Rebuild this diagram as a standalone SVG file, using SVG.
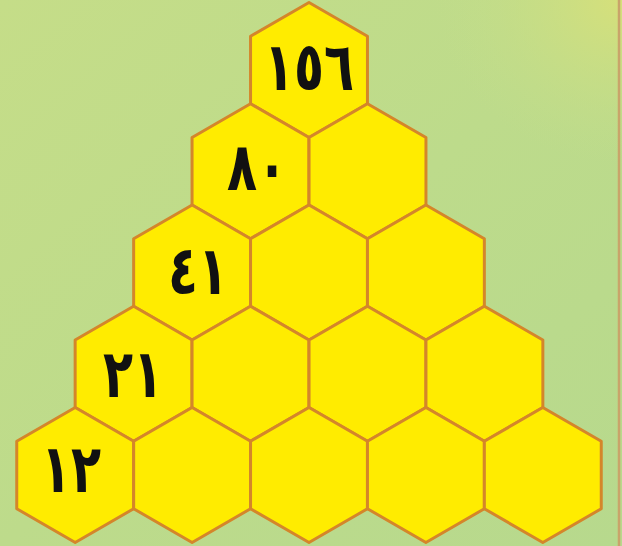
<svg xmlns="http://www.w3.org/2000/svg" xmlns:xlink="http://www.w3.org/1999/xlink" width="622" height="546" viewBox="0 0 622 546">
<defs>
<linearGradient id="bg" x1="0" y1="0" x2="1" y2="1">
<stop offset="0" stop-color="#c5dd88"/>
<stop offset="0.5" stop-color="#bddb8b"/>
<stop offset="1" stop-color="#b7d98d"/>
</linearGradient>
<radialGradient id="corner" cx="1" cy="0" r="0.3">
<stop offset="0" stop-color="#d6e07a"/>
<stop offset="1" stop-color="#c6de89" stop-opacity="0"/>
</radialGradient>
<polygon id="hex" points="0,-67.5 58.45,-33.75 58.45,33.75 0,67.5 -58.45,33.75 -58.45,-33.75"/>
</defs>
<style>
.cell use{fill:#ffec00;stroke:#d4862a;stroke-width:3;stroke-linejoin:round}
.num{font-family:"DejaVu Sans",sans-serif;font-weight:bold;font-size:56px;fill:#111;text-anchor:middle;dominant-baseline:central}
</style>
<rect x="0" y="0" width="622" height="546" fill="url(#bg)"/>
<rect x="0" y="0" width="622" height="546" fill="url(#corner)"/>
<line x1="619" y1="0" x2="619" y2="546" stroke="#c9a46a" stroke-width="2.5"/>
<g id="hexes">
<g id="r1c1" class="cell"><use xlink:href="#hex" x="309" y="70"/><text class="num" transform="translate(309,67) scale(0.88,1.2)" letter-spacing="6">١٥٦</text></g>
<g id="r2c1" class="cell"><use xlink:href="#hex" x="250.5" y="171.25"/><text class="num" transform="translate(257,167) scale(0.88,1.2)" letter-spacing="10">٨٠</text></g>
<g id="r2c2" class="cell"><use xlink:href="#hex" x="367.5" y="171.25"/></g>
<g id="r3c1" class="cell"><use xlink:href="#hex" x="192.1" y="272.5"/><text class="num" transform="translate(198,271) scale(0.88,1.2)" letter-spacing="8">٤١</text></g>
<g id="r3c2" class="cell"><use xlink:href="#hex" x="309" y="272.5"/></g>
<g id="r3c3" class="cell"><use xlink:href="#hex" x="425.9" y="272.5"/></g>
<g id="r4c1" class="cell"><use xlink:href="#hex" x="133.6" y="373.75"/><text class="num" transform="translate(133,374) scale(0.88,1.2)" letter-spacing="10">٢١</text></g>
<g id="r4c2" class="cell"><use xlink:href="#hex" x="250.5" y="373.75"/></g>
<g id="r4c3" class="cell"><use xlink:href="#hex" x="367.5" y="373.75"/></g>
<g id="r4c4" class="cell"><use xlink:href="#hex" x="484.4" y="373.75"/></g>
<g id="r5c1" class="cell"><use xlink:href="#hex" x="75.2" y="475"/><text class="num" transform="translate(71,469) scale(0.88,1.2)" letter-spacing="14">١٢</text></g>
<g id="r5c2" class="cell"><use xlink:href="#hex" x="192.1" y="475"/></g>
<g id="r5c3" class="cell"><use xlink:href="#hex" x="309" y="475"/></g>
<g id="r5c4" class="cell"><use xlink:href="#hex" x="425.9" y="475"/></g>
<g id="r5c5" class="cell"><use xlink:href="#hex" x="542.8" y="475"/></g>
</g>
<g id="connectors"/>
</svg>
